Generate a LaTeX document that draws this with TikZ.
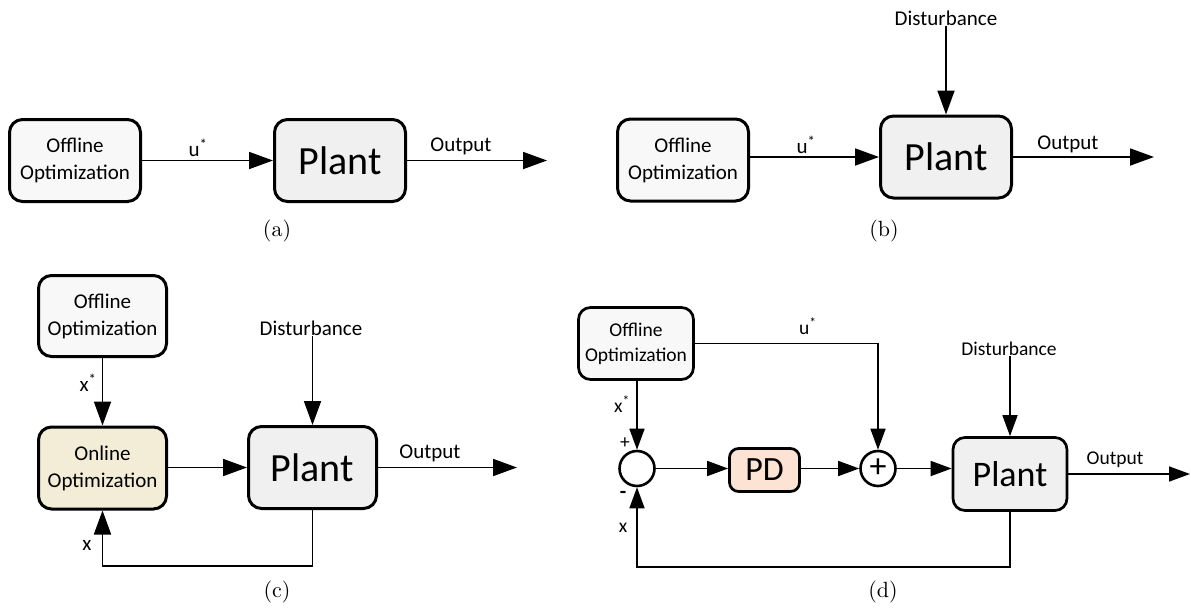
\documentclass[tikz,border=0pt]{standalone}
\usepackage{fontspec}
\newfontfamily\carl{Carlito}
\newfontfamily\capfont{lmroman10-regular}[Extension=.otf]
\usetikzlibrary{arrows.meta,calc}
\definecolor{offgray}{HTML}{F8F8F8}
\definecolor{plantgray}{HTML}{F0F0F0}
\definecolor{onbeige}{HTML}{F3ECD7}
\definecolor{pdpeach}{HTML}{FCE3D3}
\tikzset{
  blk/.style={draw, rounded corners=13pt, line width=3pt, inner sep=0pt, align=center,
    font=\carl\fontsize{21}{27}\selectfont},
  offl/.style={blk, fill=offgray},
  onl/.style={blk, fill=onbeige},
  plnt/.style={blk, fill=plantgray, font=\carl\fontsize{40}{44}\selectfont},
  lbl/.style={inner sep=0pt, font=\carl\fontsize{21}{25}\selectfont},
  captxt/.style={inner sep=0pt, font=\capfont\fontsize{22}{24}\selectfont},
  wire/.style={line width=1.8pt},
  con/.style={wire, -{Triangle[length=24pt,width=17pt]}},
  % smaller figure (d)
  dblk/.style={blk, line width=2.7pt, rounded corners=12pt, font=\carl\fontsize{19.5}{25}\selectfont},
  dlbl/.style={inner sep=0pt, font=\carl\fontsize{19.5}{23}\selectfont},
  dwire/.style={line width=1.6pt},
  dcon/.style={dwire, -{Triangle[length=21pt,width=15pt]}},
  junc/.style={circle, draw, line width=2.6pt, fill=white, minimum size=35pt, inner sep=0pt,
    font=\carl\fontsize{34}{34}\selectfont},
}
\begin{document}
\begin{tikzpicture}[x=1pt,y=-1pt]
\useasboundingbox (0,0) rectangle (1191,608);

% ---------- (a) open loop ----------
\node[offl, minimum width=131pt, minimum height=82pt] (offA) at (75,160.5) {Offline\\Optimization};
\node[plnt, minimum width=131pt, minimum height=82pt] (plantA) at (340,160.5) {Plant};
\coordinate (outA) at (547,160.5);
\draw[con] (offA) -- (plantA);
\draw[con] (plantA) -- (outA);
\node[lbl] (uA) at (198,148) {u\textsuperscript{*}};
\node[lbl] (oA) at (461,146) {Output};
\node[captxt] (capA) at (277,231) {(a)};

% ---------- (b) open loop with disturbance ----------
\node[offl, minimum width=131pt, minimum height=82pt] (offB) at (683,160) {Offline\\Optimization};
\node[plnt, minimum width=131pt, minimum height=82pt] (plantB) at (946,157) {Plant};
\node[lbl] (distB) at (946,18) {Disturbance};
\coordinate (outB) at (1154,157);
\draw[con] (offB.east |- plantB.west) -- (plantB.west);
\draw[con] (distB) -- (plantB);
\draw[con] (plantB) -- (outB);
\node[lbl] (uB) at (806,145) {u\textsuperscript{*}};
\node[lbl] (oB) at (1068,144) {Output};
\node[captxt] (capB) at (884,231) {(b)};

% ---------- (c) online re-optimization ----------
\node[offl, minimum width=128pt, minimum height=81pt] (offC) at (102.5,316) {Offline\\Optimization};
\node[onl, minimum width=128pt, minimum height=82pt] (onC) at (102.5,468) {Online\\Optimization};
\node[plnt, minimum width=128pt, minimum height=82pt] (plantC) at (312.5,467.5) {Plant};
\node[lbl] (distC) at (311,328) {Disturbance};
\coordinate (outC) at (517,467.5);
\coordinate (fbC) at (102.5,566);
\draw[con] (offC) -- (onC);
\draw[con] (onC.east |- plantC.west) -- (plantC.west);
\draw[con] (distC.south -| plantC.north) -- (plantC.north);
\draw[con] (plantC) -- (outC);
\draw[con] (plantC.south) |- (fbC) -- (onC.south);
\node[lbl] (xsC) at (88,383) {x\textsuperscript{*}};
\node[lbl] (xC) at (87,545) {x};
\node[lbl] (oC) at (430,453) {Output};
\node[captxt] (capC) at (277,592) {(c)};

% ---------- (d) feedforward plus PD feedback ----------
\node[dblk, fill=offgray, minimum width=115pt, minimum height=72pt] (offD) at (636,343.5) {Offline\\Optimization};
\node[junc] (errD) at (637,468.5) {};
\node[dblk, fill=pdpeach, minimum width=70pt, minimum height=43pt, rounded corners=9pt,
      font=\carl\fontsize{34}{36}\selectfont] (pdD) at (764.5,470) {PD};
\node[junc] (sumD) at (878,468.5) {+};
\node[dblk, fill=plantgray, minimum width=114pt, minimum height=73pt,
      font=\carl\fontsize{36}{40}\selectfont] (plantD) at (1010,474) {Plant};
\node[dlbl] (distD) at (1009,349) {Disturbance};
\coordinate (outD) at (1190,474);
\coordinate (fbD) at (637,567);
\draw[dcon] (offD.south -| errD.north) -- (errD.north);
\draw[dcon] (offD.east) -| (sumD.north);
\draw[dcon] (errD) -- (pdD.west |- errD);
\draw[dcon] (pdD.east |- sumD) -- (sumD.west);
\draw[dcon] (sumD.east) -- (sumD.east -| plantD.west);
\draw[dcon] (distD.south -| plantD.north) -- (plantD.north);
\draw[dcon] (plantD) -- (outD);
\draw[dcon] (plantD.south) |- (fbD) -- (errD.south);
\node[dlbl] (usD) at (808,326) {u\textsuperscript{*}};
\node[dlbl] (xsD) at (622,404) {x\textsuperscript{*}};
\node[dlbl] (plusD) at (625,443) {+};
\node[dlbl, font=\carl\bfseries\fontsize{21}{23}\selectfont] (minusD) at (623,495) {-};
\node[dlbl] (xD) at (623,528) {x};
\node[dlbl] (oD) at (1115,460) {Output};
\node[captxt] (capD) at (883,592) {(d)};
\end{tikzpicture}
\end{document}
